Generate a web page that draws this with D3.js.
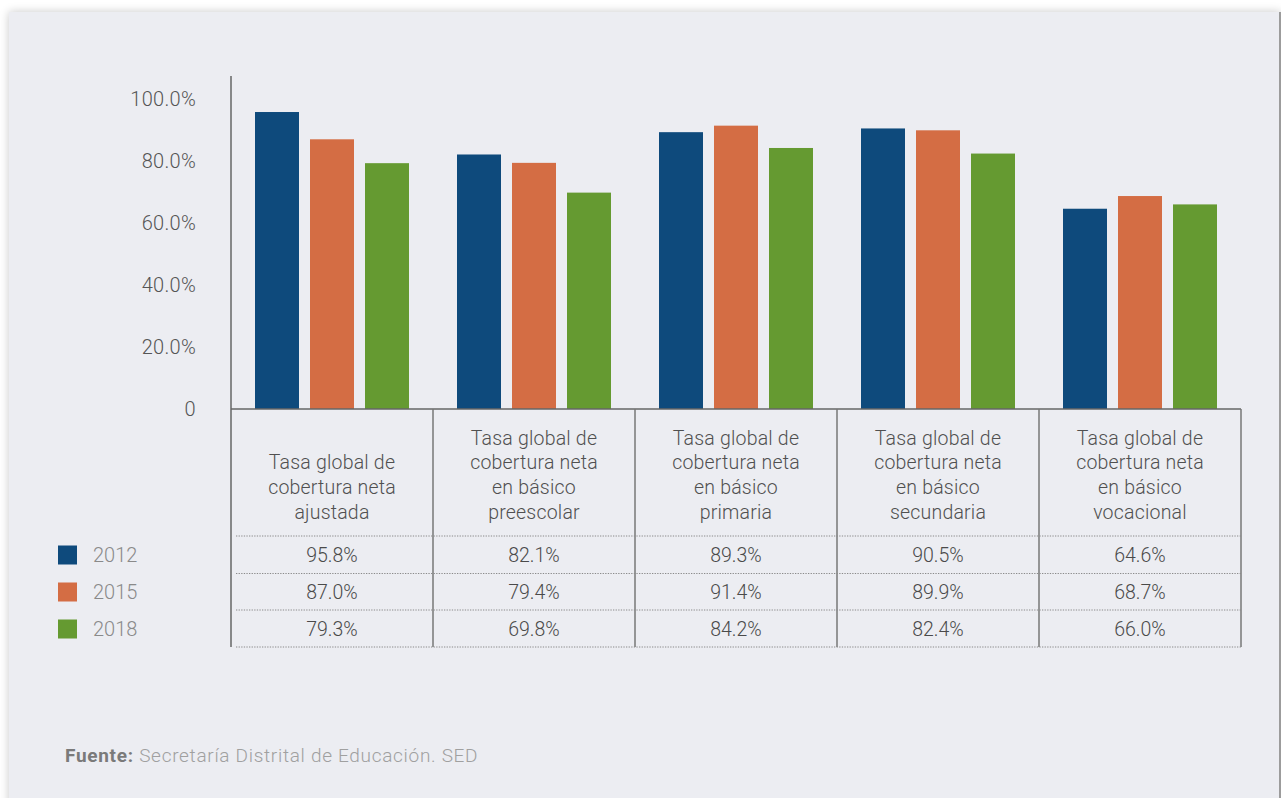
<!DOCTYPE html>
<html>
<head>
<meta charset="utf-8">
<script src="https://cdn.jsdelivr.net/npm/d3@7"></script>
<style>
  html, body { margin: 0; padding: 0; background: #ffffff; overflow: hidden; }
  #panel {
    position: absolute; left: 9px; top: 12px; width: 1270px; height: 800px;
    background: #ecedf2; box-shadow: 0 0 9px rgba(0,0,0,0.22);
    border-right: 2px solid #9c9c9c;
  }
  svg { position: absolute; left: 0; top: 0; }
  text { font-family: Roboto, "Noto Sans", sans-serif; }
</style>
</head>
<body>
<div id="panel"></div>
<svg id="chart" width="1281" height="798"></svg>
<script>
// Categories (header lines for each table column)
const categories = [
  ["Tasa global de", "cobertura neta", "ajustada"],
  ["Tasa global de", "cobertura neta", "en básico", "preescolar"],
  ["Tasa global de", "cobertura neta", "en básico", "primaria"],
  ["Tasa global de", "cobertura neta", "en básico", "secundaria"],
  ["Tasa global de", "cobertura neta", "en básico", "vocacional"]
];
const years = ["2012", "2015", "2018"];
const values2012 = [95.8, 82.1, 89.3, 90.5, 64.6];
const values2015 = [87.0, 79.4, 91.4, 89.9, 68.7];
const values2018 = [79.3, 69.8, 84.2, 82.4, 66.0];
const yTicks = [0, 20, 40, 60, 80, 100];
const colors = ["#0e4a7c", "#d46d44", "#659a31"];
const source = "Secretaría Distrital de Educación. SED";

const series = [values2012, values2015, values2018];

const svg = d3.select("#chart");

const left = 231, right = 1241, baseY = 409;
const x = d3.scaleBand().domain(d3.range(categories.length)).range([left, right]).padding(0);
const colW = x.bandwidth();
const xs = d3.scaleBand().domain(years).range([24, colW - 24]).paddingInner(0.2).paddingOuter(0);
const y = d3.scaleLinear().domain([0, 100]).range([baseY, baseY - 310]);

// Bars
const groups = svg.append("g").selectAll("g")
  .data(categories)
  .join("g")
  .attr("transform", (d, i) => `translate(${x(i)},0)`);

groups.selectAll("rect")
  .data((d, i) => years.map((yr, k) => ({ yr, k, v: series[k][i] })))
  .join("rect")
  .attr("x", d => xs(d.yr))
  .attr("width", xs.bandwidth())
  .attr("y", d => y(d.v))
  .attr("height", d => baseY - y(d.v))
  .attr("fill", d => colors[d.k]);

// Y axis labels (no tick marks)
const yAxis = d3.axisLeft(y)
  .tickValues(yTicks)
  .tickSize(0)
  .tickPadding(0)
  .tickFormat(d => d === 0 ? "0" : d3.format(".1f")(d) + "%");
const ag = svg.append("g").attr("transform", `translate(196,0)`).call(yAxis);
ag.select(".domain").remove();
ag.selectAll("text")
  .attr("fill", "#555")
  .style("font-size", "20px")
  .style("font-weight", 300)
  .style("letter-spacing", "0.3px")
  .style("font-family", "Roboto, sans-serif");

// Vertical axis line
svg.append("line")
  .attr("x1", left).attr("x2", left).attr("y1", 76).attr("y2", 647)
  .attr("stroke", "#666").attr("stroke-width", 1.5);

// Baseline / top rule of table
svg.append("line")
  .attr("x1", left).attr("x2", right).attr("y1", baseY).attr("y2", baseY)
  .attr("stroke", "#666").attr("stroke-width", 1.5);

// Column separators
svg.append("g").selectAll("line")
  .data(d3.range(1, categories.length + 1))
  .join("line")
  .attr("x1", i => i < categories.length ? x(i) : right)
  .attr("x2", i => i < categories.length ? x(i) : right)
  .attr("y1", baseY).attr("y2", 647)
  .attr("stroke", "#777").attr("stroke-width", 1.5);

// Dotted row rules
const rowRules = [536, 573.5, 610, 647];
svg.append("g").selectAll("line")
  .data(rowRules)
  .join("line")
  .attr("x1", 236).attr("x2", right)
  .attr("y1", d => d).attr("y2", d => d)
  .attr("stroke", "#8a8a8a").attr("stroke-width", 1)
  .attr("stroke-dasharray", "1.3,1.3");

// Header text, bottom-aligned in each column
groups.each(function (lines) {
  const g = d3.select(this);
  const n = lines.length;
  g.selectAll("text.hdr")
    .data(lines)
    .join("text")
    .attr("class", "hdr")
    .attr("x", colW / 2)
    .attr("y", (d, j) => 512 - (n - 1 - j) * 24.6)
    .attr("text-anchor", "middle")
    .attr("dominant-baseline", "central")
    .attr("fill", "#505050")
    .style("font-size", "19.5px")
    .style("font-weight", 300)
    .style("letter-spacing", "0.2px")
    .text(d => d);
});

// Value rows
const rowY = [555, 592, 629];
groups.selectAll("text.val")
  .data((d, i) => years.map((yr, k) => ({ k, v: series[k][i] })))
  .join("text")
  .attr("class", "val")
  .attr("x", colW / 2)
  .attr("y", d => rowY[d.k])
  .attr("text-anchor", "middle")
  .attr("dominant-baseline", "central")
  .attr("fill", "#4a4a4a")
  .style("font-size", "19.5px")
  .style("font-weight", 300)
  .text(d => d3.format(".1f")(d.v) + "%");

// Legend
const lg = svg.append("g").selectAll("g")
  .data(years)
  .join("g")
  .attr("transform", (d, k) => `translate(58,${rowY[k]})`);
lg.append("rect")
  .attr("x", 0).attr("y", -9.5).attr("width", 19).attr("height", 19)
  .attr("fill", (d, k) => colors[k]);
lg.append("text")
  .attr("x", 35).attr("y", 0)
  .attr("dominant-baseline", "central")
  .attr("fill", "#8a8a8a")
  .style("font-size", "20px")
  .style("font-weight", 300)
  .text(d => d);

// Source note
const src = svg.append("text")
  .attr("x", 65).attr("y", 755)
  .attr("dominant-baseline", "central")
  .style("font-size", "19px")
  .style("letter-spacing", "0.7px");
src.append("tspan").attr("fill", "#7a7a7a").style("font-weight", 700).text("Fuente: ");
src.append("tspan").attr("fill", "#a0a0a0").style("font-weight", 300).text(source);
</script>
</body>
</html>
